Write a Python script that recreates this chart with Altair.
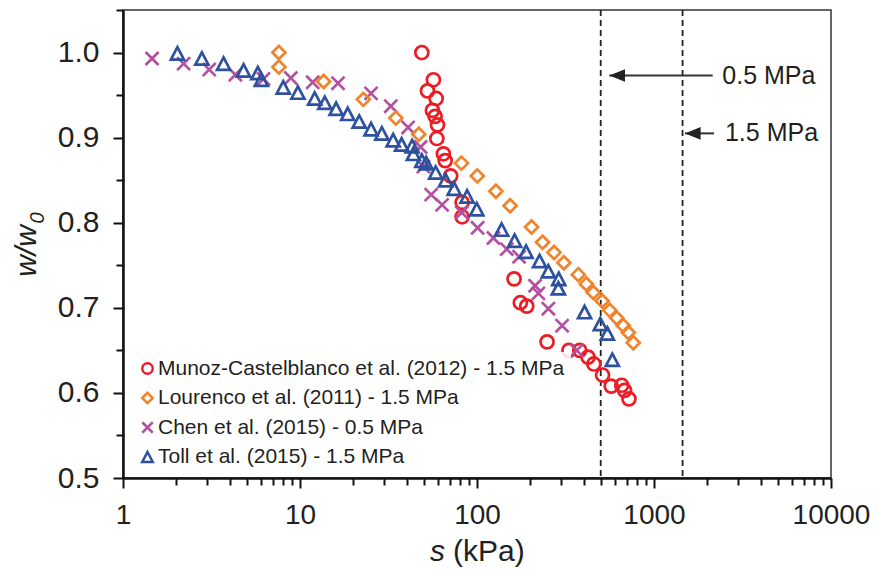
import altair as alt
import pandas as pd

series_names = [
    "Munoz-Castelblanco et al. (2012) - 1.5 MPa",
    "Lourenco et al. (2011) - 1.5 MPa",
    "Chen et al. (2015) - 0.5 MPa",
    "Toll et al. (2015) - 1.5 MPa",
]
series_colors = ["#ED1C24", "#F0842C", "#B4509F", "#2D519E"]
series_shapes = [
    "circle",
    "diamond",
    "M-1,-1L1,1M-1,1L1,-1",
    "M0,-0.95L1,0.95L-1,0.95Z",
]

munoz_s = [48.8, 56.7, 52.5, 58.8, 56.0, 58.0, 59.8, 59.3, 64.6, 66.1, 71.0, 82.4, 82.4,
           162, 175.8, 191, 248.8, 330.4, 380.6, 424, 457, 512, 573, 657, 682, 722]
munoz_w = [1.000, 0.968, 0.955, 0.946, 0.932, 0.925, 0.915, 0.899, 0.881, 0.873, 0.855, 0.824, 0.807,
           0.734, 0.706, 0.702, 0.660, 0.650, 0.650, 0.642, 0.634, 0.621, 0.608, 0.609, 0.603, 0.593]

lourenco_s = [7.60, 7.60, 13.6, 22.8, 34.8, 46.9, 81.7, 100.4, 127.9, 153.8, 203.4, 234.7,
              272.5, 309.6, 373.7, 414.7, 454.2, 510, 562.2, 615.8, 671, 716, 764]
lourenco_w = [1.000, 0.983, 0.966, 0.945, 0.923, 0.904, 0.870, 0.855, 0.837, 0.820, 0.795, 0.777,
              0.765, 0.753, 0.739, 0.728, 0.718, 0.708, 0.697, 0.688, 0.679, 0.671, 0.659]

chen_s = [1.46, 2.20, 3.07, 4.31, 6.22, 8.88, 11.8, 16.4, 25.2, 32.6, 40.8, 48.0, 49.8, 55.1,
          63.5, 82.0, 100.8, 123.8, 147.3, 172.9, 212.9, 222.2, 253, 302.6, 366]
chen_w = [0.993, 0.987, 0.980, 0.974, 0.969, 0.970, 0.965, 0.964, 0.952, 0.937, 0.912, 0.889, 0.866, 0.833,
          0.821, 0.812, 0.794, 0.782, 0.769, 0.760, 0.726, 0.717, 0.699, 0.679, 0.650]

toll_s = [2.03, 2.79, 3.70, 4.80, 5.78, 6.04, 8.04, 9.73, 12.1, 13.8, 16.0, 18.6, 21.6, 25.2,
          29.0, 33.6, 37.5, 43.0, 43.7, 48.8, 51.6, 58.4, 66.5, 74.3, 87.9, 99.7, 137.7, 163.1,
          189.3, 225.7, 253, 289.7, 288.2, 405.3, 497.4, 545, 581.6]
toll_w = [0.999, 0.993, 0.987, 0.979, 0.976, 0.968, 0.959, 0.953, 0.946, 0.941, 0.934, 0.928, 0.919, 0.910,
          0.905, 0.897, 0.892, 0.890, 0.881, 0.873, 0.870, 0.859, 0.850, 0.840, 0.831, 0.816, 0.792, 0.779,
          0.766, 0.755, 0.743, 0.734, 0.723, 0.695, 0.681, 0.670, 0.639]

# suction limits (kPa) and annotations
vline_s = [500, 1450]
arrow_tip_s = [559, 1496]
arrow_end_s = [2146, 2183]
arrow_w = [0.973, 0.905]
arrow_text_s = [2431, 2517]
arrow_text = ["0.5 MPa", "1.5 MPa"]

x_ticks = [m * 10 ** e for e in range(4) for m in range(1, 10)] + [10000]
y_ticks = [0.5, 0.55, 0.6, 0.65, 0.7, 0.75, 0.8, 0.85, 0.9, 0.95, 1.0, 1.05]

rows = []
for name, ss, ws in [
    (series_names[0], munoz_s, munoz_w),
    (series_names[2], chen_s, chen_w),
    (series_names[3], toll_s, toll_w),
    (series_names[1], lourenco_s, lourenco_w),
]:
    for s, w in zip(ss, ws):
        rows.append({"s": s, "w": w, "series": name})
pts = pd.DataFrame(rows)

FONT = "Liberation Sans"
TXT = "#231F20"

xscale = alt.Scale(type="log", domain=[1, 10000], nice=False)
yscale = alt.Scale(domain=[0.5, 1.05], nice=False, zero=False)

is_major_x = "abs(log(datum.value)/LN10 - round(log(datum.value)/LN10)) < 1e-6"
xaxis = alt.Axis(
    values=x_ticks, title=None, grid=False,
    labelExpr=f"{is_major_x} ? format(datum.value, 'd') : ''",
    labelOverlap=False, labelFlush=False, labelFontSize=28, labelPadding=13,
    tickSize={"condition": {"test": is_major_x, "value": 10}, "value": 7},
)
is_major_y = "round(datum.value*100) % 10 == 0"
yaxis = alt.Axis(
    values=y_ticks, title=None, grid=False,
    labelExpr=f"{is_major_y} ? format(datum.value, '.1f') : ''",
    labelOverlap=False, labelFlush=False, labelFontSize=30, labelPadding=14,
    tickSize={"condition": {"test": is_major_y, "value": 10}, "value": 7},
)

X = alt.X("s:Q", scale=xscale, axis=xaxis)
Y = alt.Y("w:Q", scale=yscale, axis=yaxis)

leg = alt.Legend(
    title=None, orient="none", legendX=8, legendY=342,
    labelFontSize=21, labelFont=FONT, labelColor=TXT, labelLimit=800,
    symbolStrokeWidth=2.5, symbolSize=110, rowPadding=7.5, labelOffset=0,
    padding=6, fillColor="rgba(255,255,255,0.85)",
)

points = alt.Chart(pts).mark_point(filled=False, strokeWidth=2.7, size=170, opacity=1).encode(
    x=X, y=Y,
    color=alt.Color("series:N", scale=alt.Scale(domain=series_names, range=series_colors), legend=leg),
    shape=alt.Shape("series:N", scale=alt.Scale(domain=series_names, range=series_shapes), legend=leg),
)

vl = pd.DataFrame({"s": vline_s})
vlines = alt.Chart(vl).mark_rule(color="#222", strokeWidth=1.8, strokeDash=[6, 4]).encode(x=X)

ar = pd.DataFrame({"s": arrow_tip_s, "s2": arrow_end_s, "w": arrow_w, "ts": arrow_text_s, "t": arrow_text})
shafts = alt.Chart(ar).mark_rule(color="#333", strokeWidth=2).encode(x=X, x2="s2:Q", y=Y)
heads = alt.Chart(ar).mark_point(shape="M0,0L2,-0.8L2,0.8Z", filled=True, size=246,
                                 color="#222", opacity=1).encode(x=X, y=Y)
atext = alt.Chart(ar).mark_text(align="left", baseline="middle", fontSize=25, font=FONT,
                                color=TXT).encode(x=alt.X("ts:Q", scale=xscale, axis=xaxis), y=Y, text="t:N")

dummy = pd.DataFrame({"a": [0]})
ytitle1 = alt.Chart(dummy).mark_text(text="w/w", angle=270, fontSize=30, fontStyle="italic",
                                     font=FONT, color=TXT, align="center", baseline="middle").encode(
    x=alt.value(-96), y=alt.value(241))
ytitle2 = alt.Chart(dummy).mark_text(text="0", angle=270, fontSize=20, fontStyle="italic",
                                     font=FONT, color=TXT, align="center", baseline="middle").encode(
    x=alt.value(-85), y=alt.value(208))
xtitle1 = alt.Chart(dummy).mark_text(text="s", fontSize=30, fontStyle="italic", font=FONT,
                                     color=TXT, align="left", baseline="middle").encode(
    x=alt.value(307), y=alt.value(542))
xtitle2 = alt.Chart(dummy).mark_text(text="(kPa)", fontSize=30, font=FONT,
                                     color=TXT, align="left", baseline="middle").encode(
    x=alt.value(330), y=alt.value(542))

chart = alt.layer(
    vlines, shafts, heads, atext, points, ytitle1, ytitle2, xtitle1, xtitle2
).properties(
    width=708, height=468,
    autosize=alt.AutoSizeParams(type="none"),
    padding={"left": 115, "top": 2, "right": 39, "bottom": 89},
).configure_view(
    stroke="#333", strokeWidth=1.5
).configure_axis(
    domainColor="#111", domainWidth=2.5, tickColor="#111", tickWidth=2,
    labelFont=FONT, labelColor=TXT,
)

chart.save("out.html", embed_options={"renderer": "svg", "actions": False})
